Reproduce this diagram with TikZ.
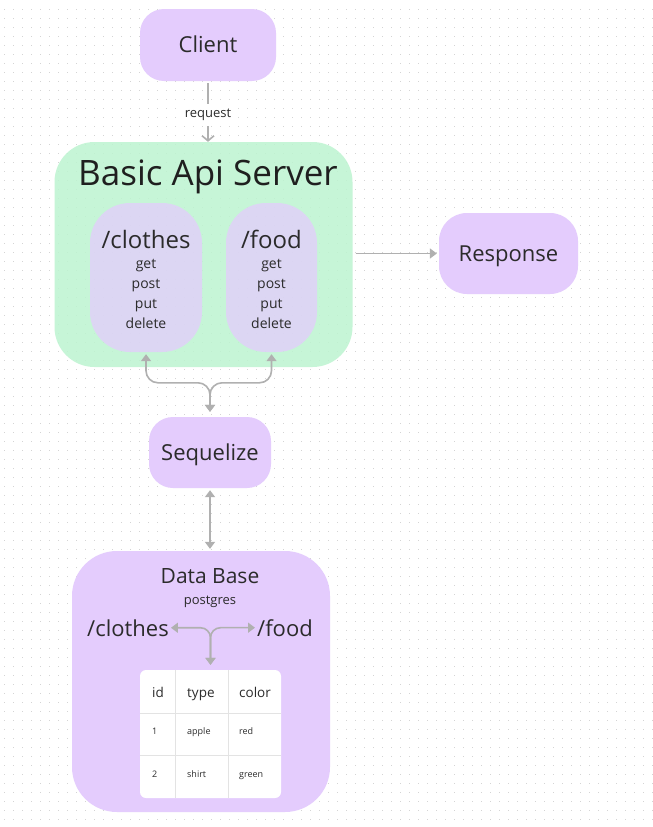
\documentclass[tikz,border=0pt]{standalone}
\usepackage{fontspec}
\setmainfont{Open Sans}
\usepackage{xcolor}
\usepackage{tikz}
\usetikzlibrary{arrows.meta,positioning,calc}

\definecolor{violetbox}{HTML}{E4CCFD}
\definecolor{mintbox}{HTML}{BDF4D0}
\definecolor{wire}{HTML}{B0B0B0}
\definecolor{ink}{HTML}{2B2B2B}
\definecolor{dotgray}{HTML}{D4D4D4}
\definecolor{cellline}{HTML}{E3E3E3}

\tikzset{
  pill/.style={rectangle, rounded corners=24pt, fill=violetbox, text=ink, text height=15.7pt, text depth=0pt},
  lilac/.style={rectangle, rounded corners=40pt, fill=violetbox, fill opacity=0.75},
  label/.style={text=ink, inner sep=2pt},
  link/.style={draw=wire, line width=1.6pt},
  tip/.tip={Triangle[width=10pt,length=7pt]}
}

\begin{document}
\begin{tikzpicture}[x=1pt,y=-1pt]
% canvas with dot grid
\useasboundingbox (0,0) rectangle (653,827);
\fill[white] (0,0) rectangle (653,827);
\foreach \x in {4,13,...,652} {
  \foreach \y in {9,18,...,826} {
    \fill[dotgray] (\x-0.5,\y-0.5) rectangle (\x+0.5,\y+0.5);
  }
}

% client
\node[pill, minimum width=136pt, minimum height=72pt, font=\fontsize{22}{26}\selectfont] (client) at (208,45) {Client};

% server with two routes
\node[rectangle, rounded corners=40pt, fill=mintbox, fill opacity=0.85, minimum width=298pt, minimum height=225pt] (server) at (203.5,254.5) {};
\node[label, anchor=base, text=black!88, font=\fontsize{35}{40}\selectfont] (servertitle) at (208,185) {Basic Api Server};
\node[lilac, minimum width=112pt, minimum height=149pt] (clothes) at (146,277.5) {};
\node[lilac, minimum width=91pt, minimum height=149pt] (food) at (271.5,277.5) {};
\node[label, anchor=base, font=\fontsize{24}{28}\selectfont] at (146,248) {/clothes};
\node[label, anchor=base, font=\fontsize{24}{28}\selectfont] at (271.5,248) {/food};
\foreach \m [count=\i] in {get,post,put,delete} {
  \node[label, anchor=base, font=\fontsize{14}{16}\selectfont] at (146,248+20*\i) {\m};
  \node[label, anchor=base, font=\fontsize{14}{16}\selectfont] at (271.5,248+20*\i) {\m};
}

% response
\node[pill, rounded corners=28pt, minimum width=139pt, minimum height=81pt, font=\fontsize{22}{26}\selectfont] (response) at (508.5,253.5) {Response};

% sequelize
\node[pill, minimum width=122pt, minimum height=71pt, font=\fontsize{22}{26}\selectfont] (seq) at (210,452.5) {Sequelize};

% data base
\node[pill, rounded corners=45pt, minimum width=258pt, minimum height=261pt] (db) at (201,681.5) {};
\node[label, anchor=base, font=\fontsize{21}{24}\selectfont] (dbtitle) at (210,583) {Data Base};
\node[label, anchor=base, font=\fontsize{13}{15}\selectfont] (dbsub) at (210,604) {postgres};
\node[label, anchor=base, font=\fontsize{22}{26}\selectfont] (dbclothes) at (128,636) {/clothes};
\node[label, anchor=base, font=\fontsize{22}{26}\selectfont] (dbfood) at (285,636) {/food};

% table
\node[rectangle, rounded corners=6pt, fill=white, minimum width=141pt, minimum height=128pt] (tbl) at (210.5,734) {};
\draw[cellline, line width=0.8pt] (175,670) -- (175,798) (228,670) -- (228,798);
\draw[cellline, line width=0.8pt] (140,713) -- (281,713) (140,755) -- (281,755);
\foreach \c/\t in {152/id,187/type,239/color} {
  \node[label, anchor=base west, inner sep=0pt, font=\fontsize{13.5}{15}\selectfont] at (\c,697) {\t};
}
\foreach \c/\a/\b in {152/1/2,187/apple/shirt,239/red/green} {
  \node[label, anchor=base west, inner sep=0pt, font=\fontsize{9}{11}\selectfont] at (\c,734) {\a};
  \node[label, anchor=base west, inner sep=0pt, font=\fontsize{9}{11}\selectfont] at (\c,777) {\b};
}

% connectors
\draw[link, -{Straight Barb[length=5pt,width=12pt]}, shorten <=2pt] (client.south) -- node[pos=0.56, fill=white, text=ink, inner sep=5pt, font=\fontsize{13}{15}\selectfont] {request} (client.south |- server.north);
\draw[link, -tip, shorten <=3pt, shorten >=2pt] (server.east |- response.west) -- (response.west);
\draw[link, tip-tip, rounded corners=12pt, shorten <=2pt, shorten >=5pt] (clothes.south) |- ([yshift=34pt]seq.north) -- (seq.north);
\draw[link, tip-tip, rounded corners=12pt, shorten <=2pt, shorten >=5pt] (food.south) |- ([yshift=34pt]seq.north) -- (seq.north);
\draw[link, tip-tip, shorten <=2pt, shorten >=2pt] (seq.south) -- (seq.south |- db.north);
\draw[link, tip-tip, rounded corners=10pt, shorten >=5pt] (dbclothes.east) -| (tbl.north);
\draw[link, tip-tip, rounded corners=10pt, shorten >=5pt] (dbfood.west) -| (tbl.north);
\end{tikzpicture}
\end{document}
